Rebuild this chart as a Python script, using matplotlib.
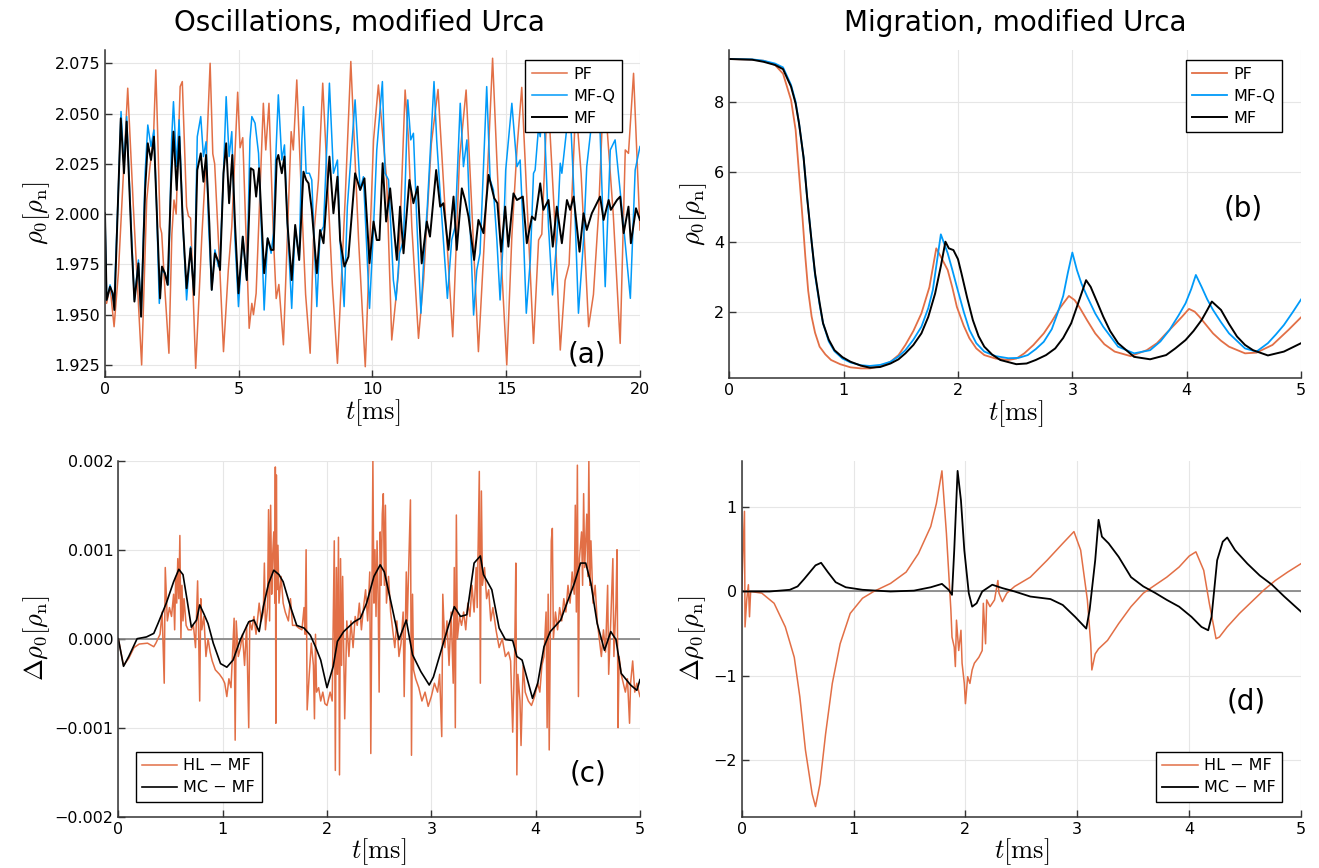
import numpy as np
import matplotlib
matplotlib.use("Agg")
import matplotlib.pyplot as plt
from matplotlib.ticker import FuncFormatter

plt.rcParams['font.family'] = 'DejaVu Sans'
plt.rcParams['mathtext.fontset'] = 'cm'

orange = '#e26f46'
blue = '#009af9'

# ---- (a) oscillations, t [ms] / rho_0
pf_a_t = [0, 0.06, 0.19, 0.34, 0.50, 0.65, 0.85, 1.06, 1.37, 1.56, 1.68, 1.81, 1.90, 1.97, 2.06, 2.12,
          2.24, 2.39, 2.50, 2.58, 2.66, 2.81, 2.89, 3.05, 3.12, 3.20, 3.39, 3.62, 3.80, 3.93, 4.03, 4.10,
          4.30, 4.43, 4.61, 4.74, 4.96, 5.05, 5.15, 5.39, 5.49, 5.55, 5.65, 5.92, 6.01, 6.13, 6.30, 6.40,
          6.50, 6.67, 6.96, 7.04, 7.17, 7.36, 7.50, 7.67, 7.79, 7.98, 8.14, 8.35, 8.50, 8.69, 8.98, 9.19,
          9.48, 9.73, 10.04, 10.22, 10.53, 10.72, 10.97, 11.22, 11.34, 11.47, 11.72, 11.91, 12.20, 12.45,
          12.78, 13.00, 13.25, 13.50, 13.71, 13.96, 14.21, 14.49, 14.65, 14.84, 15.02, 15.21, 15.40, 15.58,
          16.02, 16.21, 16.33, 16.55, 16.80, 17.02, 17.20, 17.35, 17.60, 17.80, 18.08, 18.26, 18.45, 18.65,
          19.00, 19.26, 19.45, 19.57, 19.76, 20.0]
pf_a_v = [1.995, 1.9556, 1.9639, 1.9440, 1.9706, 2.010, 2.0626, 2.0037, 1.9250, 2.0070, 2.0236, 2.0369,
          2.0717, 2.040, 1.9938, 1.9905, 1.9623, 1.9308, 1.990, 2.007, 2.000, 2.0634, 2.0659, 2.0037, 1.999,
          1.998, 1.9233, 1.9888, 2.0319, 2.0750, 2.030, 2.025, 1.9706, 1.9316, 1.9722, 1.9938, 2.0606, 2.033,
          2.038, 1.9432, 1.9556, 1.950, 1.9606, 2.0551, 2.0319, 2.0551, 1.9871, 1.958, 1.965, 1.935, 2.0410,
          2.0319, 2.0667, 2.0037, 1.960, 1.9308, 1.9871, 2.0170, 2.0651, 2.0070, 1.965, 1.9258, 2.0079,
          2.0759, 1.9871, 1.9241, 2.0369, 2.0642, 2.017, 1.9374, 1.9706, 2.0617, 2.0385, 1.9938, 1.9382,
          1.9672, 2.035, 2.062, 1.987, 1.9390, 2.0269, 2.0617, 2.0037, 1.9316, 1.9938, 2.0775, 2.0269,
          1.9706, 1.9250, 1.9888, 2.032, 2.063, 1.9357, 1.9871, 1.990, 2.062, 2.000, 1.9324, 1.967, 1.975,
          2.055, 2.020, 1.9440, 1.960, 2.000, 2.065, 2.000, 1.9357, 2.0319, 2.0302, 2.0700, 1.9921]

mfq_a_t = [0, 0.06, 0.19, 0.34, 0.50, 0.60, 0.71, 0.81, 1.00, 1.10, 1.25, 1.35, 1.50, 1.60, 1.72, 1.83,
           1.93, 2.03, 2.12, 2.24, 2.37, 2.49, 2.56, 2.68, 2.77, 2.91, 3.05, 3.20, 3.33, 3.45, 3.58, 3.68,
           3.78, 3.87, 3.99, 4.11, 4.24, 4.30, 4.43, 4.53, 4.64, 4.74, 4.86, 4.99, 5.15, 5.30, 5.42, 5.49,
           5.61, 5.74, 5.84, 5.95, 6.08, 6.21, 6.30, 6.38, 6.48, 6.61, 6.71, 6.82, 6.98, 7.11, 7.26, 7.36,
           7.42, 7.52, 7.64, 7.73, 7.92, 8.04, 8.17, 8.39, 8.54, 8.69, 8.79, 8.94, 9.06, 9.35, 9.54, 9.66,
           9.89, 10.04, 10.16, 10.37, 10.47, 10.60, 10.68, 10.78, 10.88, 11.01, 11.16, 11.32, 11.43, 11.53,
           11.66, 11.81, 11.93, 12.05, 12.30, 12.40, 12.53, 12.65, 12.80, 12.96, 13.09, 13.28, 13.40, 13.53,
           13.65, 13.78, 13.90, 14.02, 14.27, 14.40, 14.52, 14.65, 14.77, 14.90, 14.98, 15.21, 15.40, 15.52,
           15.65, 15.75, 15.90, 16.02, 16.08, 16.21, 16.27, 16.39, 16.58, 16.73, 16.89, 17.02, 17.08, 17.27,
           17.39, 17.58, 17.70, 17.89, 18.01, 18.26, 18.51, 18.70, 18.89, 19.07, 19.39, 19.64, 19.82, 20.0]
mfq_a_v = [2.000, 1.9573, 1.9648, 1.9556, 2.0120, 2.0510, 2.0236, 2.0485, 1.9871, 1.9573, 1.9772, 1.9490,
           2.0203, 2.0443, 2.0336, 2.0418, 2.0037, 1.9556, 1.9722, 1.9706, 1.9648, 2.0369, 2.0559, 2.0236,
           2.0469, 1.9954, 1.9573, 1.9838, 1.9598, 2.0385, 2.0485, 2.0286, 2.0360, 1.9954, 1.9623, 1.9822,
           1.9739, 1.9772, 2.0203, 2.0584, 2.0286, 2.0410, 1.9871, 1.9540, 1.9888, 1.9672, 2.0369, 2.0485,
           2.0452, 2.0302, 1.9954, 1.9523, 1.9880, 1.9805, 1.9905, 2.0269, 2.0593, 2.0269, 2.0344, 1.9954,
           1.9531, 1.9938, 1.9772, 2.0369, 2.0534, 2.0203, 2.0203, 2.0170, 1.9540, 1.9905, 1.9938, 2.0651,
           2.0203, 2.0269, 1.9871, 1.9540, 2.0037, 2.0568, 2.0120, 2.0186, 1.9531, 1.9938, 2.0319, 2.0659,
           2.0203, 2.0170, 1.9954, 1.9672, 1.9573, 1.9805, 1.9871, 2.0568, 2.0369, 2.0402, 1.9954, 1.9507,
           1.9805, 2.0037, 2.0659, 2.0369, 2.0103, 1.9871, 1.9581, 1.9871, 1.9938, 2.0551, 2.0236, 2.0369,
           1.9938, 1.9498, 1.9722, 1.9805, 2.0634, 2.0170, 2.0120, 1.9871, 1.9573, 1.9905, 2.0219, 2.0551,
           2.0236, 2.0269, 1.9871, 1.9507, 1.9772, 2.0203, 2.0219, 2.0435, 2.0385, 2.0568, 1.9938, 1.9598,
           1.9871, 2.0253, 2.0203, 2.0435, 2.0518, 1.9963, 1.9507, 1.9871, 2.0236, 2.0534, 2.0402, 1.9639,
           2.0319, 2.0369, 1.9938, 1.9581, 2.0219, 2.0336]

mf_a_t = [0, 0.06, 0.19, 0.29, 0.35, 0.50, 0.59, 0.71, 0.81, 1.00, 1.10, 1.25, 1.35, 1.50, 1.60, 1.72,
          1.83, 1.93, 2.06, 2.13, 2.24, 2.34, 2.47, 2.56, 2.68, 2.78, 2.91, 3.05, 3.20, 3.33, 3.45, 3.58,
          3.68, 3.78, 3.90, 3.99, 4.11, 4.24, 4.30, 4.43, 4.53, 4.64, 4.76, 4.86, 4.99, 5.15, 5.30, 5.45,
          5.55, 5.65, 5.76, 5.86, 5.95, 6.08, 6.21, 6.30, 6.42, 6.48, 6.61, 6.71, 6.82, 6.98, 7.11, 7.26,
          7.42, 7.52, 7.61, 7.73, 7.92, 8.04, 8.17, 8.39, 8.54, 8.69, 8.79, 8.95, 9.10, 9.35, 9.54, 9.70,
          9.89, 10.04, 10.16, 10.26, 10.38, 10.51, 10.66, 10.91, 11.03, 11.16, 11.38, 11.53, 11.69, 11.84,
          12.03, 12.15, 12.38, 12.53, 12.65, 12.84, 13.03, 13.15, 13.34, 13.46, 13.59, 13.80, 13.96, 14.15,
          14.34, 14.55, 14.67, 14.81, 14.96, 15.08, 15.27, 15.40, 15.62, 15.77, 15.96, 16.08, 16.27, 16.39,
          16.58, 16.74, 16.89, 17.08, 17.27, 17.39, 17.52, 17.74, 17.89, 18.01, 18.20, 18.51, 18.64, 18.83,
          18.91, 19.14, 19.26, 19.39, 19.57, 19.66, 19.85, 20.0]
mf_a_v = [2.0004, 1.9573, 1.9639, 1.9606, 1.9523, 2.0120, 2.0476, 2.0203, 2.0460, 1.9838, 1.9565, 1.9755,
          1.9490, 2.0120, 2.0352, 2.0269, 2.0385, 2.0037, 1.9581, 1.9739, 1.9706, 1.9648, 2.0153, 2.0410,
          2.0120, 2.0385, 1.9954, 1.9631, 1.9830, 1.9598, 2.0219, 2.0302, 2.0161, 2.0294, 1.9954, 1.9623,
          1.9805, 1.9764, 1.9722, 2.0203, 2.0352, 2.0054, 2.0294, 1.9954, 1.9606, 1.9888, 1.9672, 2.0228,
          2.0219, 2.0087, 2.0228, 1.9954, 1.9706, 1.9880, 1.9822, 1.9822, 2.0269, 2.0294, 2.0203, 2.0286,
          1.9954, 1.9672, 1.9946, 1.9772, 2.0211, 2.0170, 2.0153, 2.0021, 1.9706, 1.9921, 1.9855, 2.0286,
          2.0004, 2.0186, 1.9871, 1.9739, 1.9788, 2.0203, 2.0120, 2.0178, 1.9756, 1.9963, 1.9871, 1.9871,
          2.0253, 1.9963, 2.0128, 1.9772, 2.0037, 1.9805, 2.0170, 2.0054, 2.0137, 1.9755, 1.9963, 1.9888,
          2.0219, 2.0037, 2.0054, 1.9822, 2.0087, 1.9822, 2.0128, 2.0070, 1.9987, 1.9772, 1.9971, 1.9905,
          2.0195, 2.0079, 2.0054, 1.9813, 2.0037, 1.9838, 2.0103, 2.0070, 2.0087, 1.9855, 1.9988, 1.9971,
          2.0153, 2.0021, 2.0070, 1.9838, 2.0037, 1.9855, 2.0070, 2.0021, 2.0087, 1.9813, 2.0004, 1.9921,
          2.0004, 2.0087, 1.9971, 2.0070, 2.0021, 2.0070, 2.0087, 1.9905, 2.0037, 1.9855, 2.0029, 1.9971]

# ---- (b) migration
pf_b_t = [0, 0.20, 0.30, 0.40, 0.47, 0.54, 0.58, 0.61, 0.64, 0.665, 0.69, 0.72, 0.75, 0.79, 0.84, 0.89,
          0.97, 1.06, 1.15, 1.23, 1.32, 1.41, 1.48, 1.54, 1.61, 1.68, 1.75, 1.81, 1.85, 1.91, 1.95, 1.99,
          2.05, 2.10, 2.16, 2.23, 2.33, 2.44, 2.51, 2.58, 2.66, 2.75, 2.82, 2.89, 2.97, 3.02, 3.06, 3.13,
          3.20, 3.28, 3.37, 3.51, 3.65, 3.74, 3.82, 3.90, 3.96, 4.02, 4.07, 4.11, 4.17, 4.23, 4.30, 4.37,
          4.51, 4.61, 4.75, 4.89, 5.0]
pf_b_v = [9.22, 9.20, 9.17, 9.05, 8.80, 8.05, 7.20, 5.95, 4.70, 3.57, 2.60, 1.86, 1.40, 1.00, 0.78, 0.62,
          0.50, 0.41, 0.38, 0.38, 0.44, 0.57, 0.76, 1.05, 1.45, 1.95, 2.70, 3.81, 3.57, 3.19, 2.70, 2.14,
          1.60, 1.24, 0.95, 0.76, 0.66, 0.62, 0.66, 0.81, 1.05, 1.38, 1.72, 2.10, 2.45, 2.33, 2.14, 1.75,
          1.38, 1.07, 0.86, 0.73, 0.90, 1.10, 1.38, 1.65, 1.86, 2.08, 2.00, 1.86, 1.62, 1.38, 1.17, 1.00,
          0.81, 0.83, 1.05, 1.48, 1.84]
mfq_b_t = [0, 0.20, 0.30, 0.40, 0.47, 0.54, 0.58, 0.61, 0.65, 0.68, 0.72, 0.75, 0.79, 0.82, 0.87, 0.92,
           0.99, 1.06, 1.15, 1.23, 1.32, 1.41, 1.48, 1.54, 1.61, 1.68, 1.74, 1.78, 1.85, 1.91, 1.95, 1.99,
           2.05, 2.10, 2.16, 2.23, 2.33, 2.44, 2.53, 2.61, 2.68, 2.75, 2.82, 2.87, 2.92, 2.96, 3.00, 3.04,
           3.08, 3.13, 3.20, 3.27, 3.40, 3.54, 3.68, 3.77, 3.85, 3.93, 3.99, 4.04, 4.08, 4.13, 4.18, 4.23,
           4.30, 4.37, 4.51, 4.61, 4.71, 4.78, 4.85, 4.93, 5.0]
mfq_b_v = [9.22, 9.21, 9.17, 9.09, 8.98, 8.48, 8.00, 7.38, 6.40, 5.29, 4.00, 3.05, 2.20, 1.67, 1.15, 0.87,
           0.66, 0.55, 0.47, 0.45, 0.48, 0.57, 0.72, 0.90, 1.20, 1.57, 2.10, 2.62, 4.21, 3.67, 3.20, 2.71,
           2.00, 1.48, 1.10, 0.86, 0.73, 0.67, 0.68, 0.76, 0.93, 1.14, 1.50, 1.95, 2.45, 3.10, 3.69, 3.19,
           2.80, 2.43, 1.95, 1.57, 1.00, 0.81, 0.90, 1.15, 1.48, 1.90, 2.24, 2.65, 3.05, 2.71, 2.35, 2.05,
           1.70, 1.38, 0.95, 0.86, 1.10, 1.35, 1.62, 2.00, 2.35]
mf_b_t = [0, 0.20, 0.30, 0.40, 0.47, 0.54, 0.58, 0.61, 0.65, 0.68, 0.72, 0.75, 0.79, 0.82, 0.87, 0.92,
          0.99, 1.06, 1.15, 1.23, 1.32, 1.41, 1.48, 1.54, 1.61, 1.68, 1.74, 1.80, 1.85, 1.89, 1.92, 1.96,
          2.00, 2.03, 2.08, 2.13, 2.18, 2.23, 2.30, 2.37, 2.51, 2.60, 2.68, 2.77, 2.85, 2.92, 2.99, 3.06,
          3.12, 3.16, 3.22, 3.27, 3.33, 3.40, 3.54, 3.68, 3.82, 3.90, 3.99, 4.06, 4.13, 4.18, 4.22, 4.30,
          4.37, 4.44, 4.51, 4.58, 4.71, 4.85, 5.0]
mf_b_v = [9.22, 9.20, 9.14, 9.05, 8.93, 8.43, 7.95, 7.38, 6.40, 5.29, 4.00, 3.10, 2.25, 1.67, 1.20, 0.90,
          0.70, 0.57, 0.46, 0.40, 0.42, 0.52, 0.64, 0.81, 1.05, 1.38, 1.85, 2.52, 3.30, 4.00, 3.81, 3.76,
          3.50, 3.10, 2.40, 1.76, 1.30, 1.00, 0.77, 0.62, 0.50, 0.52, 0.62, 0.76, 0.95, 1.25, 1.67, 2.33,
          2.90, 2.71, 2.25, 1.86, 1.45, 1.10, 0.71, 0.64, 0.76, 0.95, 1.19, 1.45, 1.76, 2.05, 2.29, 2.05,
          1.65, 1.29, 1.05, 0.90, 0.75, 0.86, 1.10]

# ---- (c) differences, oscillations (values in units of 1e-3 rho_n)
hl_c_t = [0.00, 0.05, 0.10, 0.15, 0.20, 0.28, 0.34, 0.36, 0.40, 0.42, 0.44, 0.45, 0.47, 0.49, 0.51, 0.53,
          0.54, 0.55, 0.56, 0.57, 0.58, 0.59, 0.60, 0.61, 0.62, 0.63, 0.65, 0.67, 0.70, 0.72, 0.74, 0.76,
          0.77, 0.78, 0.79, 0.80, 0.82, 0.84, 0.86, 0.88, 0.90, 0.93, 0.97, 1.00, 1.02, 1.04, 1.06, 1.08,
          1.11, 1.12, 1.13, 1.15, 1.17, 1.19, 1.21, 1.23, 1.25, 1.26, 1.28, 1.30, 1.32, 1.35, 1.37, 1.39,
          1.40, 1.41, 1.43, 1.44, 1.45, 1.46, 1.47, 1.48, 1.49, 1.50, 1.505, 1.51, 1.515, 1.52, 1.53, 1.54,
          1.56, 1.58, 1.60, 1.63, 1.65, 1.67, 1.70, 1.73, 1.76, 1.78, 1.79, 1.80, 1.81, 1.83, 1.85, 1.87,
          1.88, 1.89, 1.90, 1.92, 1.94, 1.96, 1.98, 2.00, 2.03, 2.05, 2.07, 2.08, 2.09, 2.10, 2.11, 2.12,
          2.13, 2.14, 2.15, 2.17, 2.19, 2.21, 2.23, 2.25, 2.27, 2.29, 2.31, 2.33, 2.35, 2.37, 2.39, 2.41,
          2.42, 2.44, 2.45, 2.46, 2.47, 2.48, 2.49, 2.50, 2.51, 2.52, 2.53, 2.54, 2.55, 2.56, 2.57, 2.59,
          2.61, 2.63, 2.65, 2.67, 2.69, 2.71, 2.73, 2.74, 2.76, 2.77, 2.80, 2.81, 2.82, 2.83, 2.85, 2.88,
          2.91, 2.94, 2.97, 3.00, 3.03, 3.06, 3.08, 3.10, 3.11, 3.13, 3.15, 3.17, 3.19, 3.21, 3.22, 3.23,
          3.24, 3.25, 3.27, 3.29, 3.31, 3.33, 3.35, 3.37, 3.39, 3.41, 3.43, 3.44, 3.46, 3.47, 3.48, 3.49,
          3.51, 3.53, 3.55, 3.57, 3.59, 3.62, 3.65, 3.68, 3.71, 3.74, 3.76, 3.78, 3.80, 3.81, 3.82, 3.83,
          3.85, 3.86, 3.88, 3.90, 3.93, 3.96, 3.99, 4.02, 4.04, 4.06, 4.08, 4.10, 4.11, 4.12, 4.13, 4.15,
          4.16, 4.17, 4.19, 4.21, 4.23, 4.25, 4.27, 4.29, 4.31, 4.33, 4.35, 4.37, 4.38, 4.39, 4.40, 4.41,
          4.42, 4.44, 4.45, 4.46, 4.47, 4.49, 4.50, 4.51, 4.52, 4.53, 4.55, 4.57, 4.59, 4.61, 4.63, 4.65,
          4.67, 4.69, 4.70, 4.72, 4.74, 4.75, 4.77, 4.78, 4.79, 4.80, 4.82, 4.84, 4.86, 4.88, 4.90, 4.91,
          4.93, 4.95, 4.97, 5.00]
hl_c_v = [0.0, -0.30, -0.22, -0.10, -0.06, -0.05, -0.09, -0.05, 0.05, 0.30, -0.50, 0.80, 0.20, 0.35, 0.25,
          0.50, 0.10, 0.70, 0.40, 0.90, 0.45, 1.16, 0.00, 0.60, 0.20, 0.45, 0.15, 0.10, 0.10, 0.15, -0.10,
          0.65, 0.05, -0.70, 0.45, 0.10, 0.25, -0.20, 0.00, -0.15, -0.25, -0.35, -0.40, -0.45, -0.50, -0.65,
          -0.45, -0.55, 0.23, -1.14, 0.20, -0.20, -0.10, 0.05, -0.30, 0.15, -1.00, 0.20, 0.10, 0.25, 0.05,
          0.40, 0.20, 0.30, 0.85, 0.10, 0.35, 1.45, 0.20, 1.50, 0.50, 0.95, 1.20, 0.40, 1.93, -0.95, 1.84,
          0.55, 1.05, 0.40, 0.70, 0.40, 0.30, 0.20, 0.45, 0.15, 0.15, 0.12, 0.10, 0.35, 0.05, 1.00, -0.80,
          -0.40, -0.05, -0.30, -0.90, 0.05, -0.60, -0.55, -0.70, -0.60, -0.73, -0.75, -0.60, -0.70, 1.10,
          -1.48, 0.80, -0.40, 1.14, -1.53, 0.90, -0.30, 0.70, -0.90, 0.20, -0.20, 0.20, -0.10, 0.25, 0.15,
          0.40, 0.10, 0.35, 0.55, 0.20, 0.75, -1.29, 2.00, 0.40, 1.00, 0.25, 1.10, 0.50, -0.60, 1.20, 0.60,
          1.40, 1.63, 0.60, 1.50, 0.40, 0.70, 0.30, 0.10, -0.10, 0.20, -0.20, -0.05, 0.30, -0.65, 0.75, 0.20,
          1.56, -1.31, 0.50, -0.35, -0.45, -0.55, -0.70, -0.60, -0.76, -0.65, -0.50, -0.60, -0.40, -1.10,
          0.50, -0.10, 0.20, -0.30, 0.30, -0.50, 0.80, -1.00, 1.39, 0.00, 0.25, 0.15, 0.30, 0.10, 0.40, 0.25,
          0.60, 0.30, 0.80, 0.35, 1.88, -0.50, 1.66, 0.60, 0.80, 0.45, 0.55, 0.20, 0.35, 0.10, -0.10, 0.00,
          -0.20, -0.15, -0.25, -1.05, -0.10, 0.85, -1.53, -0.40, -0.70, -1.20, -0.30, -0.60, -0.70, -0.75,
          -0.65, -0.50, -0.60, -0.30, -0.20, 0.30, -1.00, 0.50, -1.25, 1.10, 1.24, 0.00, 0.30, 0.10, 0.35,
          0.20, 0.45, 0.30, 0.60, 0.40, 0.75, 0.50, 1.50, 0.30, 1.95, -0.65, 0.90, 1.20, 0.60, 1.63, 0.80,
          1.40, 0.70, 2.00, 0.60, 1.10, 0.40, 0.60, 0.20, 0.00, -0.20, 0.10, -0.15, 0.60, -0.40, 0.20, 0.90,
          -0.20, 0.40, 1.00, -1.00, -0.20, -0.40, -0.50, -0.60, -0.45, -0.95, -0.50, -0.25, -0.60, -0.50,
          -0.65]
mc_c_t = [0, 0.05, 0.10, 0.18, 0.27, 0.34, 0.38, 0.46, 0.53, 0.58, 0.62, 0.66, 0.70, 0.75, 0.78, 0.82,
          0.86, 0.91, 0.98, 1.04, 1.10, 1.17, 1.25, 1.30, 1.35, 1.39, 1.44, 1.49, 1.54, 1.58, 1.65, 1.71,
          1.78, 1.84, 1.89, 1.94, 2.00, 2.06, 2.10, 2.16, 2.26, 2.32, 2.38, 2.45, 2.51, 2.55, 2.61, 2.69,
          2.76, 2.82, 2.90, 2.98, 3.02, 3.12, 3.22, 3.28, 3.34, 3.41, 3.47, 3.50, 3.58, 3.65, 3.71, 3.78,
          3.82, 3.87, 3.94, 3.97, 4.02, 4.08, 4.14, 4.24, 4.30, 4.37, 4.43, 4.48, 4.53, 4.59, 4.66, 4.72,
          4.77, 4.82, 4.91, 4.97, 5.0]
mc_c_v = [0, -0.31, -0.20, 0.00, 0.02, 0.06, 0.17, 0.40, 0.64, 0.78, 0.72, 0.43, 0.13, 0.21, 0.38, 0.28,
          0.17, -0.05, -0.28, -0.32, -0.24, -0.01, 0.19, 0.21, 0.08, 0.36, 0.62, 0.77, 0.72, 0.64, 0.36,
          0.15, 0.12, 0.04, -0.09, -0.24, -0.55, -0.31, -0.03, 0.08, 0.19, 0.23, 0.40, 0.70, 0.83, 0.75, 0.43,
          -0.01, 0.21, -0.18, -0.37, -0.52, -0.43, -0.03, 0.36, 0.25, 0.27, 0.85, 0.93, 0.72, 0.55, 0.12,
          -0.01, -0.02, -0.20, -0.24, -0.54, -0.67, -0.50, -0.09, 0.08, 0.21, 0.40, 0.62, 0.85, 0.85, 0.62,
          0.17, -0.13, 0.08, -0.01, -0.39, -0.52, -0.58, -0.46]

# ---- (d) differences, migration
hl_d_t = [0, 0.025, 0.03, 0.045, 0.06, 0.07, 0.08, 0.18, 0.29, 0.39, 0.47, 0.52, 0.57, 0.63, 0.66, 0.70,
          0.75, 0.81, 0.88, 0.97, 1.08, 1.18, 1.33, 1.47, 1.58, 1.69, 1.74, 1.79, 1.83, 1.87, 1.88, 1.90,
          1.91, 1.92, 1.94, 1.96, 1.97, 1.99, 2.00, 2.02, 2.04, 2.06, 2.08, 2.12, 2.15, 2.16, 2.18, 2.19,
          2.22, 2.26, 2.29, 2.30, 2.33, 2.37, 2.44, 2.58, 2.73, 2.87, 2.97, 3.03, 3.09, 3.12, 3.13, 3.16,
          3.19, 3.27, 3.37, 3.48, 3.59, 3.70, 3.80, 3.91, 4.00, 4.06, 4.13, 4.18, 4.24, 4.27, 4.34, 4.45,
          4.56, 4.67, 4.77, 4.88, 5.0]
hl_d_v = [0, 0.95, -0.42, -0.10, 0.08, -0.30, 0.0, -0.02, -0.14, -0.42, -0.78, -1.25, -1.88, -2.40, -2.55,
          -2.28, -1.69, -1.09, -0.62, -0.26, -0.08, 0.0, 0.095, 0.23, 0.45, 0.77, 1.04, 1.43, 0.69, -0.22,
          -0.54, -0.66, -0.89, -0.34, -0.70, -0.46, -0.85, -1.09, -1.33, -1.01, -1.09, -0.93, -0.85, -0.78,
          -0.70, -0.14, -0.62, -0.10, -0.18, -0.10, 0.13, -0.02, -0.12, -0.02, 0.06, 0.17, 0.37, 0.57, 0.71,
          0.49, -0.10, -0.62, -0.93, -0.74, -0.68, -0.58, -0.38, -0.18, -0.02, 0.08, 0.17, 0.29, 0.42, 0.47,
          0.25, -0.14, -0.56, -0.54, -0.42, -0.26, -0.12, 0.02, 0.13, 0.23, 0.33]
mc_d_t = [0, 0.25, 0.43, 0.50, 0.56, 0.61, 0.66, 0.71, 0.77, 0.84, 0.93, 1.08, 1.33, 1.54, 1.69, 1.79,
          1.85, 1.88, 1.90, 1.93, 1.96, 1.99, 2.03, 2.06, 2.10, 2.15, 2.24, 2.33, 2.44, 2.58, 2.76, 2.87,
          2.98, 3.08, 3.11, 3.16, 3.19, 3.22, 3.28, 3.37, 3.48, 3.59, 3.70, 3.80, 3.91, 4.02, 4.11, 4.17,
          4.20, 4.25, 4.30, 4.34, 4.41, 4.52, 4.63, 4.74, 4.85, 5.0]
mc_d_v = [0, 0, 0.02, 0.06, 0.15, 0.23, 0.31, 0.34, 0.23, 0.11, 0.05, 0.02, 0.0, 0.01, 0.05, 0.09, 0.02,
          -0.04, 0.49, 1.43, 1.08, 0.49, -0.02, -0.18, -0.14, 0.0, 0.08, 0.04, 0.0, -0.06, -0.09, -0.16,
          -0.30, -0.44, -0.22, 0.37, 0.85, 0.65, 0.57, 0.41, 0.17, 0.06, -0.02, -0.10, -0.18, -0.30, -0.42,
          -0.46, -0.30, 0.37, 0.59, 0.64, 0.49, 0.33, 0.19, 0.08, -0.06, -0.24]

tick_fs = 11.5
label_fs = 19
title_fs = 20
leg_fs = 11.5
panel_fs = 20


def style(ax):
    for s in ['top', 'right']:
        ax.spines[s].set_visible(False)
    for s in ['left', 'bottom']:
        ax.spines[s].set_linewidth(1.1)
        ax.spines[s].set_color('#333333')
    ax.grid(True, color='#e6e6e6', linewidth=0.8)
    ax.set_axisbelow(True)
    ax.tick_params(direction='in', length=5, width=1.0, labelsize=tick_fs, color='#333333')


def minus(fmt):
    return FuncFormatter(lambda v, p: (fmt % v).replace('-', '\u2212'))


def add_legend(ax, loc, anchor):
    ax.legend(loc=loc, bbox_to_anchor=anchor, borderaxespad=0, fontsize=leg_fs, fancybox=False,
              edgecolor='black', framealpha=1, handlelength=2.2, handletextpad=0.4, labelspacing=0.45,
              borderpad=0.4)


fig = plt.figure(figsize=(13.19, 8.68), dpi=100)
ax_a = fig.add_axes([0.0796, 0.5657, 0.4056, 0.3767])
ax_b = fig.add_axes([0.5529, 0.5645, 0.4335, 0.3779])
ax_c = fig.add_axes([0.0897, 0.0591, 0.3955, 0.4101])
ax_d = fig.add_axes([0.5623, 0.0591, 0.4241, 0.4101])

# (a)
ax_a.plot(pf_a_t, pf_a_v, color=orange, lw=1.1, label='PF')
ax_a.plot(mfq_a_t, mfq_a_v, color=blue, lw=1.1, label='MF-Q')
ax_a.plot(mf_a_t, mf_a_v, color='black', lw=1.4, label='MF')
ax_a.set_xlim(0, 20)
ax_a.set_ylim(1.919, 2.0816)
ax_a.set_xticks([0, 5, 10, 15, 20])
ax_a.set_yticks([1.925, 1.950, 1.975, 2.000, 2.025, 2.050, 2.075])
ax_a.yaxis.set_major_formatter(minus('%.3f'))
ax_a.set_title('Oscillations, modified Urca', fontsize=title_fs, pad=14, x=0.476)
ax_a.set_ylabel(r'$\rho_0[\rho_\mathrm{n}]$', fontsize=label_fs, labelpad=2)
ax_a.set_xlabel(r'$t[\mathrm{ms}]$', fontsize=label_fs, labelpad=0)
ax_a.text(18.0, 1.930, '(a)', fontsize=panel_fs, ha='center', va='center')
add_legend(ax_a, 'upper right', (0.966, 0.969))

# (b)
ax_b.plot(pf_b_t, pf_b_v, color=orange, lw=1.3, label='PF')
ax_b.plot(mfq_b_t, mfq_b_v, color=blue, lw=1.3, label='MF-Q')
ax_b.plot(mf_b_t, mf_b_v, color='black', lw=1.4, label='MF')
ax_b.set_xlim(0, 5)
ax_b.set_ylim(0.105, 9.477)
ax_b.set_xticks([0, 1, 2, 3, 4, 5])
ax_b.set_yticks([2, 4, 6, 8])
ax_b.set_title('Migration, modified Urca', fontsize=title_fs, pad=14)
ax_b.set_ylabel(r'$\rho_0[\rho_\mathrm{n}]$', fontsize=label_fs, labelpad=4)
ax_b.set_xlabel(r'$t[\mathrm{ms}]$', fontsize=label_fs, labelpad=0)
ax_b.text(4.49, 4.96, '(b)', fontsize=panel_fs, ha='center', va='center')
add_legend(ax_b, 'upper right', (0.967, 0.969))

# (c)
ax_c.axhline(0, color='#808080', lw=1.2)
ax_c.plot(hl_c_t, np.array(hl_c_v) * 1e-3, color=orange, lw=1.1, label='HL \u2212 MF')
ax_c.plot(mc_c_t, np.array(mc_c_v) * 1e-3, color='black', lw=1.2, label='MC \u2212 MF')
ax_c.set_xlim(0, 5)
ax_c.set_ylim(-0.002, 0.002)
ax_c.set_xticks([0, 1, 2, 3, 4, 5])
ax_c.set_yticks([-0.002, -0.001, 0.0, 0.001, 0.002])
ax_c.yaxis.set_major_formatter(minus('%.3f'))
ax_c.set_ylabel(r'$\Delta\rho_0[\rho_\mathrm{n}]$', fontsize=label_fs, labelpad=2)
ax_c.set_xlabel(r'$t[\mathrm{ms}]$', fontsize=label_fs, labelpad=0)
ax_c.text(4.5, -0.00151, '(c)', fontsize=panel_fs, ha='center', va='center')
add_legend(ax_c, 'lower left', (0.033, 0.042))

# (d)
ax_d.axhline(0, color='#808080', lw=1.2)
ax_d.plot(hl_d_t, hl_d_v, color=orange, lw=1.1, label='HL \u2212 MF')
ax_d.plot(mc_d_t, mc_d_v, color='black', lw=1.3, label='MC \u2212 MF')
ax_d.set_xlim(0, 5)
ax_d.set_ylim(-2.67, 1.55)
ax_d.set_xticks([0, 1, 2, 3, 4, 5])
ax_d.set_yticks([-2, -1, 0, 1])
ax_d.yaxis.set_major_formatter(minus('%d'))
ax_d.set_ylabel(r'$\Delta\rho_0[\rho_\mathrm{n}]$', fontsize=label_fs, labelpad=4)
ax_d.set_xlabel(r'$t[\mathrm{ms}]$', fontsize=label_fs, labelpad=0)
ax_d.text(4.51, -1.31, '(d)', fontsize=panel_fs, ha='center', va='center')
add_legend(ax_d, 'lower right', (0.966, 0.042))

for ax in (ax_a, ax_b, ax_c, ax_d):
    style(ax)

fig.savefig('out.png', dpi=100)
